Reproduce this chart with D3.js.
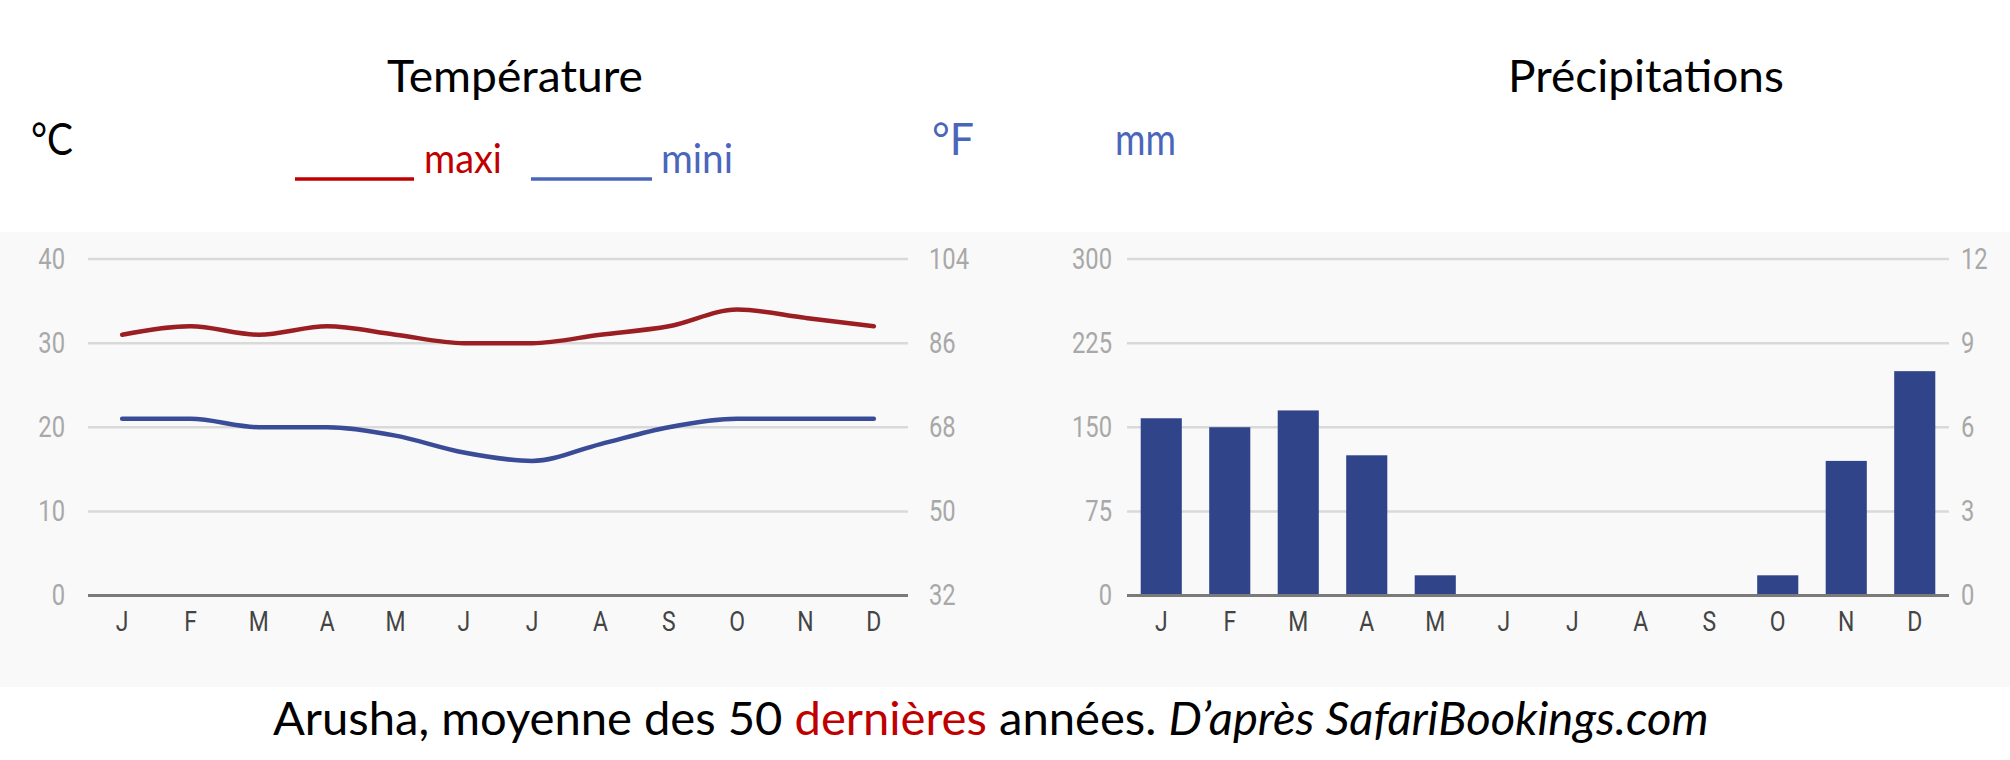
<!DOCTYPE html>
<html><head><meta charset="utf-8">
<script src="https://cdn.jsdelivr.net/npm/d3@7"></script>
<style>body{margin:0;background:#fff;} svg{display:block;}</style>
</head><body>
<svg id="c" width="2010" height="760"></svg>
<script>
const months = ["J","F","M","A","M","J","J","A","S","O","N","D"];
const tempMax = [31,32,31,32,31,30,30,31,32,34,33,32];
const tempMin = [21,21,20,20,19,17,16,18,20,21,21,21];
const precip = [158,150,165,125,18,0,0,0,1,18,120,200];
const tempTicksC = [0,10,20,30,40];
const tempTicksF = [32,50,68,86,104];
const precipTicksMm = [0,75,150,225,300];
const precipTicksRight = [0,3,6,9,12];

const svg = d3.select("#c");
const TITLE_FONT = "Lato, 'Open Sans', sans-serif";
const TICK_FONT = "Roboto, Arial, sans-serif";

svg.append("rect").attr("x",0).attr("y",232).attr("width",2010).attr("height",455).attr("fill","#f9f9f9");

const yTop = 259, yBot = 595.5;
const idx = d3.range(12);

function styleTicks(g, anchor, pad, color, size, sx){
  g.select(".domain").remove();
  g.selectAll(".tick line").remove();
  g.selectAll(".tick text")
    .attr("x",0).attr("y",0)
    .attr("fill",color)
    .style("font-family",TICK_FONT)
    .style("font-size",size+"px")
    .attr("text-anchor",anchor)
    .attr("transform",`translate(${pad},0) scale(${sx},1)`);
}

function panel(x0, x1, lDomain, lTicks, lPad, rDomain, rTicks, rPad){
  const x = d3.scaleBand().domain(idx).range([x0,x1]).padding(0);
  const yL = d3.scaleLinear().domain(lDomain).range([yBot,yTop]);
  const yR = d3.scaleLinear().domain(rDomain).range([yBot,yTop]);
  // gridlines
  svg.append("g").selectAll("line").data(lTicks.filter(t=>t!==lDomain[0])).join("line")
    .attr("x1",x0).attr("x2",x1).attr("y1",d=>yL(d)).attr("y2",d=>yL(d))
    .attr("stroke","#d9d9d9").attr("stroke-width",2.5);
  // left axis
  const gl = svg.append("g").attr("transform",`translate(${x0},0)`)
    .call(d3.axisLeft(yL).tickValues(lTicks).tickSize(0));
  styleTicks(gl,"end",-lPad,"#a8a8a8",29,0.82);
  const gr = svg.append("g").attr("transform",`translate(${x1},0)`)
    .call(d3.axisRight(yR).tickValues(rTicks).tickSize(0));
  styleTicks(gr,"start",rPad,"#a8a8a8",29,0.82);
  const gb = svg.append("g").attr("transform",`translate(0,${yBot})`)
    .call(d3.axisBottom(x).tickSize(0).tickFormat(i=>months[i]));
  gb.select(".domain").remove();
  gb.selectAll(".tick text")
    .attr("y",0).attr("dy","0.71em")
    .attr("fill","#444")
    .style("font-family",TICK_FONT).style("font-size","27px")
    .attr("transform","translate(0,16) scale(0.85,1)");
  return {x,yL,yR};
}

// Temperature chart
const t = panel(88, 908, [0,40], tempTicksC, 23, [32,104], tempTicksF, 21);
const line = d3.line().x((d,i)=>t.x(i)+t.x.bandwidth()/2).y(d=>t.yL(d)).curve(d3.curveMonotoneX);
svg.append("path").datum(tempMin).attr("d",line).attr("fill","none").attr("stroke","#3a4c97").attr("stroke-width",4.5).attr("stroke-linecap","round");
svg.append("path").datum(tempMax).attr("d",line).attr("fill","none").attr("stroke","#9a1e22").attr("stroke-width",4.5).attr("stroke-linecap","round");
svg.append("line").attr("x1",88).attr("x2",908).attr("y1",yBot).attr("y2",yBot).attr("stroke","#7a7a7a").attr("stroke-width",3);

// Precipitation chart
const p = panel(1127, 1949, [0,300], precipTicksMm, 15, [0,12], precipTicksRight, 12);
const xb = d3.scaleBand().domain(idx).range([1127,1949]).paddingInner(0.4).paddingOuter(0.2);
svg.append("g").selectAll("rect").data(precip).join("rect")
  .attr("x",(d,i)=>xb(i)).attr("width",xb.bandwidth())
  .attr("y",d=>p.yL(d)).attr("height",d=>yBot-p.yL(d))
  .attr("fill","#2f4489");
svg.append("line").attr("x1",1127).attr("x2",1949).attr("y1",yBot).attr("y2",yBot).attr("stroke","#7a7a7a").attr("stroke-width",3);

// Texts fitted to measured widths
function fitText(x, y, width, size, parts, opts={}){
  const g = svg.append("g").attr("transform",`translate(${x},${y})`);
  const tx = g.append("text").attr("x",0).attr("y",0)
    .style("font-family",TITLE_FONT).style("font-size",size+"px")
    .attr("fill", opts.fill || "#000");
  parts.forEach(pt=>{
    tx.append("tspan").text(pt.t).attr("fill",pt.fill||opts.fill||"#000")
      .style("font-style",pt.italic?"italic":"normal");
  });
  const w = tx.node().getBBox().width;
  tx.attr("transform",`scale(${width/w},1)`);
  return tx;
}
const BLUE = "#4a66bb", RED = "#c00000";
fitText(387, 92, 256, 45, [{t:"Température"}]);
fitText(1508, 92, 276, 45, [{t:"Précipitations"}]);
fitText(31, 155, 42, 45, [{t:"°C"}]);
fitText(932, 155, 42, 45, [{t:"°F", fill:BLUE}]);
fitText(1115, 155, 61, 45, [{t:"mm", fill:BLUE}]);
fitText(424, 173, 78, 40, [{t:"maxi", fill:RED}]);
fitText(661, 173, 72, 40, [{t:"mini", fill:BLUE}]);
svg.append("line").attr("x1",295).attr("x2",414).attr("y1",179).attr("y2",179).attr("stroke",RED).attr("stroke-width",3.5);
svg.append("line").attr("x1",531).attr("x2",652).attr("y1",179).attr("y2",179).attr("stroke",BLUE).attr("stroke-width",3.5);
fitText(273, 735, 1436, 46, [
  {t:"Arusha, moyenne des 50 "},
  {t:"dernières", fill:RED},
  {t:" années. "},
  {t:"D’après SafariBookings.com", italic:true}
]);
</script>
</body></html>
